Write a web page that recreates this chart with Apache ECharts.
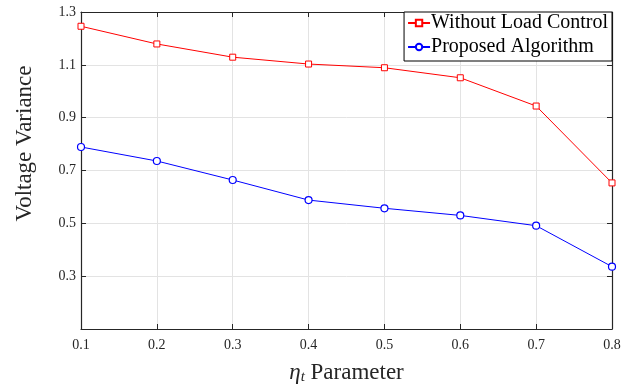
<!DOCTYPE html>
<html><head><meta charset="utf-8">
<script src="https://cdn.jsdelivr.net/npm/echarts@6/dist/echarts.min.js"></script>
<style>html,body{margin:0;padding:0;background:#fff}#c{width:633px;height:385px}</style>
</head><body><div id="c"></div>
<script>
const etaValues = [0.1, 0.2, 0.3, 0.4, 0.5, 0.6, 0.7, 0.8];
const withoutLoadControl = [1.246, 1.179, 1.129, 1.103, 1.089, 1.051, 0.944, 0.653];
const proposedAlgorithm = [0.789, 0.736, 0.664, 0.588, 0.557, 0.530, 0.491, 0.336];
const seriesNames = ['Without Load Control', 'Proposed Algorithm'];

const font = 'Liberation Serif';
const axisColor = '#262626';
const chart = echarts.init(document.getElementById('c'));
const pair = arr => etaValues.map((x, i) => [x, arr[i]]);
chart.setOption({
  animation: false,
  textStyle: {fontFamily: font},
  grid: {left: 81, right: 21, top: 12, bottom: 56, containLabel: false, outerBoundsMode: 'none'},
  legend: {
    right: 21, top: 12, orient: 'vertical', itemGap: 4,
    padding: [1, 4, 4, 3],
    backgroundColor: '#fff', borderColor: '#000', borderWidth: 1,
    itemWidth: 22, itemHeight: 8,
    textStyle: {fontFamily: font, fontSize: 20, color: '#000', padding: [0, 0, 0, -4]},
    data: seriesNames
  },
  xAxis: [{
    type: 'value', min: 0.1, max: 0.8, interval: 0.1,
    name: '{eta|η}{sub|t} Parameter', nameLocation: 'middle', nameGap: 31,
    nameTextStyle: {fontFamily: font, fontSize: 23, color: axisColor,
      rich: {eta: {fontFamily: font, fontStyle: 'italic', fontSize: 23, color: axisColor},
             sub: {fontFamily: font, fontStyle: 'italic', fontSize: 15, color: axisColor, verticalAlign: 'bottom', padding: [10, 0, 0, 0]}}},
    axisLine: {lineStyle: {color: axisColor, width: 1.2}},
    axisTick: {inside: true, length: 5, lineStyle: {color: axisColor}},
    axisLabel: {fontFamily: font, fontSize: 14, color: axisColor, margin: 9, formatter: v => v.toFixed(1)},
    splitLine: {show: true, lineStyle: {color: '#e3e3e3'}}
  }, {
    type: 'value', min: 0.1, max: 0.8, interval: 0.1, position: 'top',
    axisLine: {show: true, lineStyle: {color: axisColor, width: 1.2}},
    axisTick: {show: true, inside: true, length: 5, lineStyle: {color: axisColor}},
    axisLabel: {show: false}, splitLine: {show: false}
  }],
  yAxis: [{
    type: 'value', min: 0.1, max: 1.3, interval: 0.2,
    name: 'Voltage Variance', nameLocation: 'middle', nameGap: 45,
    nameTextStyle: {fontFamily: font, fontSize: 23, color: axisColor, padding: [0, 0, 0, 54]},
    axisLine: {show: true, lineStyle: {color: axisColor, width: 1.2}},
    axisTick: {inside: true, length: 5, lineStyle: {color: axisColor}},
    axisLabel: {fontFamily: font, fontSize: 14, color: axisColor, margin: 5,
      formatter: v => Math.abs(v - 0.1) < 1e-6 ? '' : v.toFixed(1)},
    splitLine: {show: true, lineStyle: {color: '#e3e3e3'}}
  }, {
    type: 'value', min: 0.1, max: 1.3, interval: 0.2, position: 'right',
    axisLine: {show: true, lineStyle: {color: axisColor, width: 1.2}},
    axisTick: {show: true, inside: true, length: 5, lineStyle: {color: axisColor}},
    axisLabel: {show: false}, splitLine: {show: false}
  }],
  series: [{
    name: seriesNames[0], type: 'line', data: pair(withoutLoadControl),
    symbol: 'rect', symbolSize: 6, showAllSymbol: true,
    lineStyle: {color: '#ff0000', width: 1},
    itemStyle: {color: '#fff', borderColor: '#ff0000', borderWidth: 1}
  }, {
    name: seriesNames[1], type: 'line', data: pair(proposedAlgorithm),
    symbol: 'circle', symbolSize: 7, showAllSymbol: true,
    lineStyle: {color: '#0000ff', width: 1},
    itemStyle: {color: '#fff', borderColor: '#0000ff', borderWidth: 1.2}
  }]
});
</script></body></html>
